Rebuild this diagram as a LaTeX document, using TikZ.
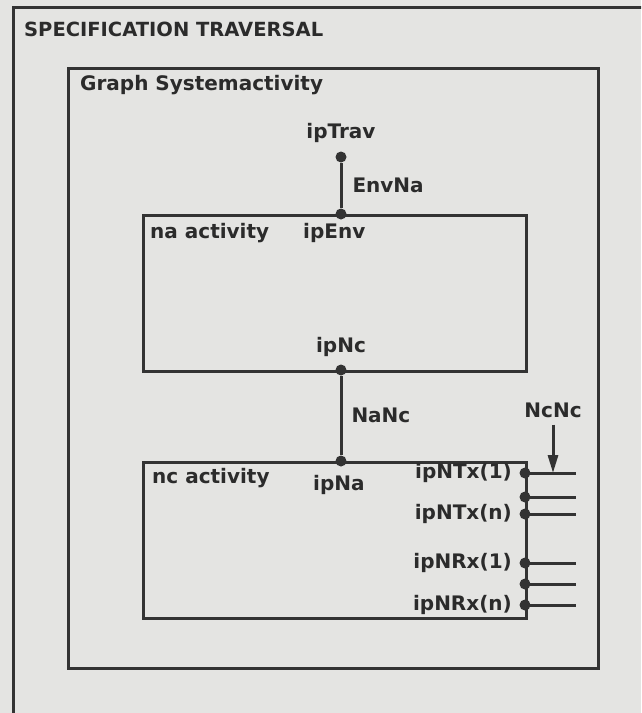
\documentclass[tikz,border=0pt]{standalone}
\usepackage{fontspec}
\setmainfont{DejaVu Sans}
\usepackage{tikz}
\usetikzlibrary{arrows.meta,positioning,calc}
\definecolor{specpaper}{HTML}{E4E4E2}
\definecolor{specink}{HTML}{333333}
\definecolor{spectext}{HTML}{2B2B2B}
\tikzset{
  frame/.style={draw=specink, line width=3pt, anchor=north west, inner sep=0pt},
  port/.style={circle, fill=specink, inner sep=0pt, minimum size=11pt},
  wire/.style={draw=specink, line width=3pt},
  stub/.style={draw=specink, line width=3pt},
  inarr/.style={-{Triangle[length=18pt,width=10pt]}, line width=3pt, color=specink},
  lbl/.style={font=\fontsize{20}{22}\selectfont\bfseries, text=spectext, inner sep=0pt},
  ttl/.style={font=\fontsize{19.5}{22}\selectfont\bfseries, text=spectext, inner sep=0pt},
}
\begin{document}
\begin{tikzpicture}[x=1pt, y=-1pt]
      \useasboundingbox[fill=specpaper] (0,0) rectangle (641,713);
      \begin{scope}
        \clip (0,0) rectangle (641,713);
        \node[frame, minimum width=660pt, minimum height=730pt] (spec) at (12,6) {};
      \end{scope}
      \node[ttl, anchor=west] (spectitle) at (24,29) {SPECIFICATION TRAVERSAL};
      \node[frame, minimum width=530pt, minimum height=600pt] (sys) at (67,67) {};
      \node[lbl, anchor=west] (systitle) at (80,85) {Graph Systemactivity};
      % na and nc activities
      \node[frame, minimum width=383pt, minimum height=156pt] (na) at (142,214) {};
      \node[frame, minimum width=383pt, minimum height=156pt] (nc) at (142,461) {};
      \node[lbl, anchor=west] at (150,233) {na activity};
      \node[lbl, anchor=west] at (152,478) {nc activity};
      % interaction points
      \node[port] (iptrav) at (341,157) {};
      \node[port] (ipenv) at (341,214) {};
      \node[port] (ipnc) at (341,370) {};
      \node[port] (ipna) at (341,461) {};
      \node[lbl, above=8pt of iptrav] {ipTrav};
      \node[lbl, anchor=west] at (303,233) {ipEnv};
      \node[lbl] at (341,347) {ipNc};
      \node[lbl, anchor=west] at (313,485) {ipNa};
      \draw[wire] (iptrav) -- (ipenv) node[lbl, midway, right=10pt] {EnvNa};
      \draw[wire] (ipnc) -- (ipna) node[lbl, midway, right=9pt] {NaNc};
      % ports on the right of nc
      \foreach \nm/\yy in {tx1/473, txm/497, txn/514, rx1/563, rxm/584, rxn/605} {
        \node[port] (p\nm) at (525,\yy) {};
        \coordinate (e\nm) at (576,\yy);
        \draw[stub] (p\nm.center) -- (e\nm);
      }
      \node[lbl, anchor=east] at (512,473) {ipNTx(1)};
      \node[lbl, anchor=east] at (512,514) {ipNTx(n)};
      \node[lbl, anchor=east] at (512,563) {ipNRx(1)};
      \node[lbl, anchor=east] at (512,605) {ipNRx(n)};
      \node[lbl] (ncnc) at (553,410) {NcNc};
      \draw[inarr] (ncnc.south) ++(0,7) coordinate (ncin) -- (ncin |- etx1);
    \end{tikzpicture}
\end{document}
